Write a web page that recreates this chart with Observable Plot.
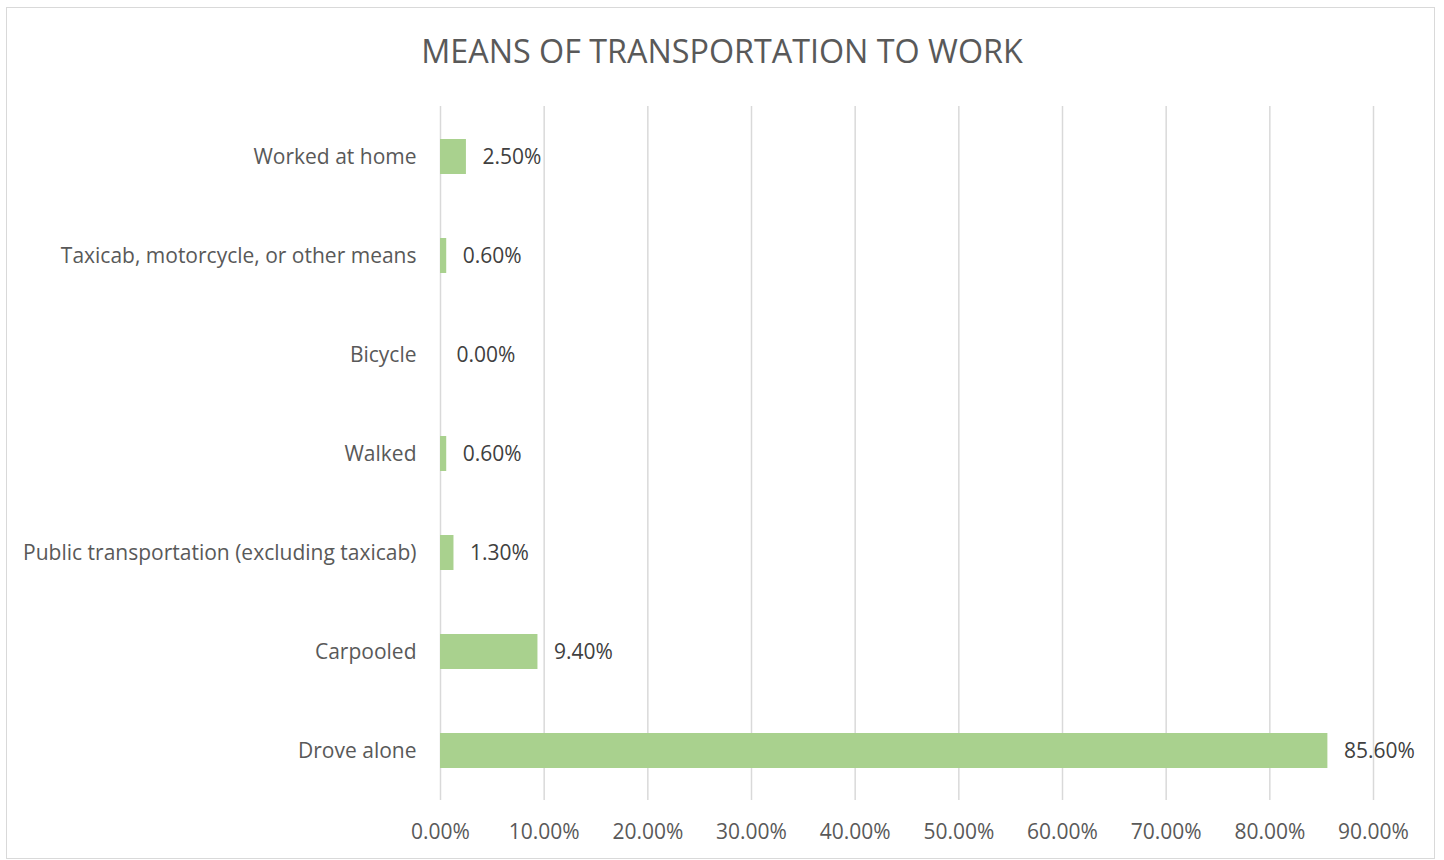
<!DOCTYPE html>
<html>
<head>
<meta charset="utf-8">
<script src="https://cdn.jsdelivr.net/npm/d3@7"></script>
<script src="https://cdn.jsdelivr.net/npm/@observablehq/plot@0.6"></script>
<style>
  html, body { margin: 0; padding: 0; background: #fff; }
  #frame { position: absolute; left: 6px; top: 7px; width: 1429px; height: 852px; border: 1px solid #d9d9d9; box-sizing: border-box; }
  #title { position: absolute; left: 0; top: 28px; width: 1444px; text-align: center; font-family: "Open Sans", sans-serif; font-size: 32.3px; color: #595959; line-height: 44px; }
  #chart { position: absolute; left: 0; top: 100px; }
</style>
</head>
<body>
<div id="frame"></div>
<div id="title">MEANS OF TRANSPORTATION TO WORK</div>
<div id="chart"></div>
<script>
const categories = [
  "Worked at home",
  "Taxicab, motorcycle, or other means",
  "Bicycle",
  "Walked",
  "Public transportation (excluding taxicab)",
  "Carpooled",
  "Drove alone"
];
const values = [0.025, 0.006, 0.0, 0.006, 0.013, 0.094, 0.856];
const xTicks = [0, 0.1, 0.2, 0.3, 0.4, 0.5, 0.6, 0.7, 0.8, 0.9];

const data = categories.map((c, i) => ({category: c, value: values[i]}));
const fmt = d3.format(".2%");

const chart = Plot.plot({
  width: 1444,
  height: 760,
  marginLeft: 440,
  marginRight: 71,
  marginTop: 6,
  marginBottom: 60,
  style: {fontFamily: "Open Sans, sans-serif", fontSize: "21px", color: "#595959", background: "transparent"},
  x: {domain: [0, 0.9], ticks: xTicks, tickFormat: fmt, tickSize: 0, tickPadding: 24, label: null},
  y: {domain: categories, paddingInner: 0.647, paddingOuter: 0.3235, tickSize: 0, tickPadding: 24, label: null},
  marks: [
    Plot.ruleX(xTicks, {stroke: "#d9d9d9", strokeWidth: 1.5}),
    Plot.barX(data, {x: "value", y: "category", fill: "#a9d18e"}),
    Plot.text(data, {x: "value", y: "category", text: d => fmt(d.value), textAnchor: "start", dx: 16, fill: "#404040", fontSize: 21})
  ]
});
document.getElementById("chart").appendChild(chart);
</script>
</body>
</html>
